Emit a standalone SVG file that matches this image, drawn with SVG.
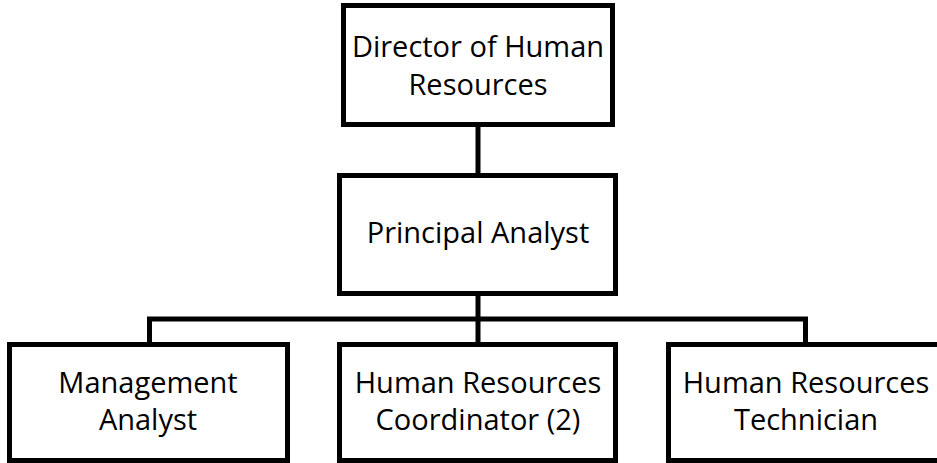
<svg xmlns="http://www.w3.org/2000/svg" width="937" height="463" viewBox="0 0 937 463">
<style>
.box{fill:#fff;stroke:#000;stroke-width:5;stroke-linejoin:miter}
.con{fill:none;stroke:#000;stroke-width:5}
text{font-family:"Open Sans","Noto Sans",sans-serif;font-size:29px;fill:#000;text-anchor:middle}
</style>
<rect width="937" height="463" fill="#fff"/>
<g id="connectors">
<line class="con" x1="478" y1="125" x2="478" y2="175"/>
<line class="con" x1="478" y1="294" x2="478" y2="344"/>
<polyline class="con" points="149.5,344 149.5,319 805.5,319 805.5,344"/>
</g>
<g id="director">
<rect class="box" x="343.5" y="5.5" width="269" height="119"/>
<text x="478" y="57">Director of Human</text>
<text x="478" y="95">Resources</text>
</g>
<g id="principal">
<rect class="box" x="339.5" y="175.5" width="276" height="118"/>
<text x="478" y="243">Principal Analyst</text>
</g>
<g id="management">
<rect class="box" x="9.5" y="344.5" width="278" height="116"/>
<text x="148" y="393">Management</text>
<text x="148" y="430">Analyst</text>
</g>
<g id="coordinator">
<rect class="box" x="339.5" y="344.5" width="276" height="116"/>
<text x="478" y="393">Human Resources</text>
<text x="478" y="430">Coordinator (2)</text>
</g>
<g id="technician">
<rect class="box" x="668.5" y="344.5" width="276" height="116"/>
<text x="806" y="393">Human Resources</text>
<text x="806" y="430">Technician</text>
</g>
</svg>
